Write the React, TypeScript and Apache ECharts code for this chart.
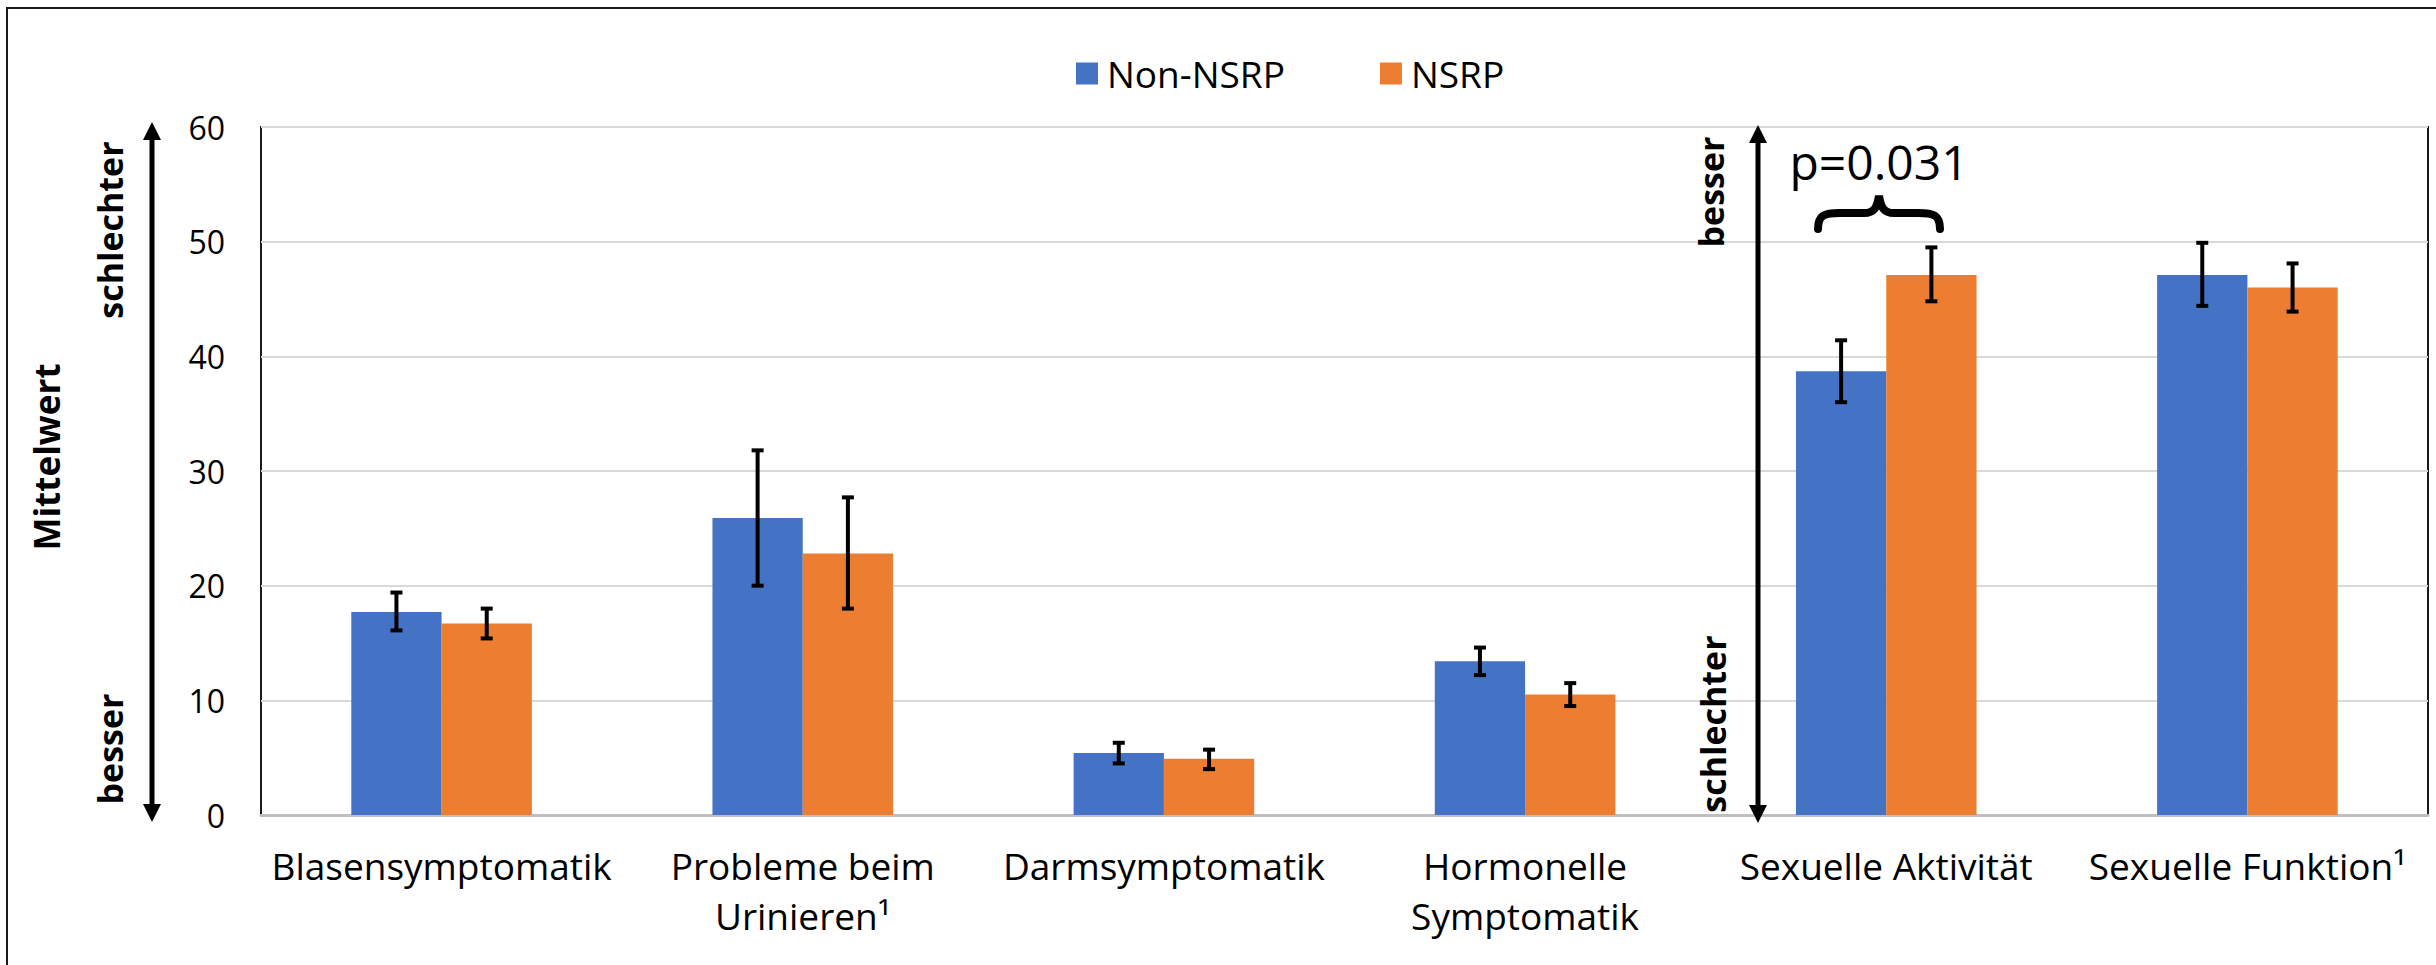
import React, { useEffect, useRef } from "react";
import * as echarts from "echarts";

const categories = [
  "Blasensymptomatik",
  "Probleme beim\nUrinieren¹",
  "Darmsymptomatik",
  "Hormonelle\nSymptomatik",
  "Sexuelle Aktivität",
  "Sexuelle Funktion¹",
];
const seriesNames = ["Non-NSRP", "NSRP"];
const nonNsrp = [17.7, 25.9, 5.4, 13.4, 38.7, 47.1];
const nsrp = [16.7, 22.8, 4.9, 10.5, 47.1, 46.0];
const nonNsrpLow = [16.1, 20.0, 4.5, 12.2, 36.0, 44.4];
const nonNsrpHigh = [19.4, 31.8, 6.3, 14.6, 41.4, 49.9];
const nsrpLow = [15.4, 18.0, 4.0, 9.5, 44.8, 43.9];
const nsrpHigh = [18.0, 27.7, 5.7, 11.5, 49.5, 48.1];
const yTicks = { min: 0, max: 60, interval: 10 };

const FONT = "'Open Sans', 'Noto Sans', sans-serif";
const BLUE = "#4472C4";
const ORANGE = "#ED7D31";

const braceD =
  "M0,33 C0,19 6,17 22,17 L46,17 C56,17 59,12 61,0 C63,12 66,17 76,17 L100,17 C116,17 122,19 122,33";
echarts.graphic.registerShape("brace", echarts.graphic.extendPath(braceD, {}));

function errorSeries(low: number[], high: number[], side: number) {
  return {
    type: "custom",
    name: "err" + side,
    z: 10,
    data: low.map((l, i) => [i, l, high[i]]),
    encode: { x: 0, y: [1, 2] },
    renderItem: (params: any, api: any) => {
      const i = api.value(0);
      const pLo = api.coord([i, api.value(1)]);
      const pHi = api.coord([i, api.value(2)]);
      const band = api.size([1, 0])[0];
      const x = pLo[0] + side * band * 0.125;
      const cap = 6;
      const style = { stroke: "#000", lineWidth: 4 };
      return {
        type: "group",
        children: [
          { type: "line", shape: { x1: x, y1: pLo[1], x2: x, y2: pHi[1] }, style },
          { type: "line", shape: { x1: x - cap, y1: pLo[1], x2: x + cap, y2: pLo[1] }, style },
          { type: "line", shape: { x1: x - cap, y1: pHi[1], x2: x + cap, y2: pHi[1] }, style },
        ],
      };
    },
  };
}

function arrow(x: number, yTop: number, yBot: number) {
  const hw = 9;
  const hh = 18;
  return [
    {
      type: "line",
      z: 100,
      shape: { x1: x, y1: yTop + hh - 2, x2: x, y2: yBot - hh + 2 },
      style: { stroke: "#000", lineWidth: 5 },
    },
    {
      type: "polygon",
      z: 100,
      shape: { points: [[x, yTop], [x - hw, yTop + hh], [x + hw, yTop + hh]] },
      style: { fill: "#000" },
    },
    {
      type: "polygon",
      z: 100,
      shape: { points: [[x, yBot], [x - hw, yBot - hh], [x + hw, yBot - hh]] },
      style: { fill: "#000" },
    },
  ];
}

function vText(text: string, x: number, y: number, size: number) {
  return {
    type: "text",
    z: 100,
    x,
    y,
    rotation: Math.PI / 2,
    style: {
      text,
      fill: "#000",
      font: `bold ${size}px ${FONT}`,
      align: "center",
      verticalAlign: "middle",
    },
  };
}

export default function App() {
  const ref = useRef<HTMLDivElement>(null);
  useEffect(() => {
    if (!ref.current) return;
    const chart = echarts.init(ref.current, null, { renderer: "svg" });
    chart.setOption({
      animation: false,
      backgroundColor: "#fff",
      textStyle: { fontFamily: FONT },
      legend: {
        data: seriesNames,
        left: 1071,
        top: 50,
        icon: "rect",
        itemWidth: 22,
        itemHeight: 22,
        itemGap: 95,
        textStyle: { fontSize: 37, color: "#000", fontFamily: FONT, padding: [0, 0, 0, 4] },
      },
      grid: {
        left: 261,
        top: 127,
        right: 8,
        bottom: 150,
        show: true,
        borderColor: "#1a1a1a",
        borderWidth: 2,
        containLabel: false,
      },
      xAxis: {
        type: "category",
        data: categories,
        axisTick: { show: false },
        axisLine: { lineStyle: { color: "#bfbfbf", width: 3 } },
        axisLabel: {
          interval: 0,
          fontSize: 37,
          lineHeight: 50,
          margin: 25,
          color: "#000",
          fontFamily: FONT,
        },
      },
      yAxis: {
        type: "value",
        min: yTicks.min,
        max: yTicks.max,
        interval: yTicks.interval,
        axisLine: { show: false },
        axisTick: { show: false },
        splitLine: { lineStyle: { color: "#d9d9d9", width: 2 } },
        axisLabel: { fontSize: 32, margin: 36, color: "#000", fontFamily: FONT },
      },
      series: [
        {
          type: "bar",
          name: seriesNames[0],
          data: nonNsrp,
          itemStyle: { color: BLUE },
          barGap: "0%",
          barCategoryGap: "50%",
        },
        {
          type: "bar",
          name: seriesNames[1],
          data: nsrp,
          itemStyle: { color: ORANGE },
          barGap: "0%",
          barCategoryGap: "50%",
        },
        errorSeries(nonNsrpLow, nonNsrpHigh, -1),
        errorSeries(nsrpLow, nsrpHigh, 1),
      ],
      graphic: [
        {
          type: "rect",
          z: 100,
          shape: { x: 7, y: 8, width: 2450, height: 980 },
          style: { fill: "none", stroke: "#1a1a1a", lineWidth: 2 },
        },
        ...arrow(152, 122, 822),
        ...arrow(1758, 125, 823),
        vText("Mittelwert", 46, 457, 35),
        vText("schlechter", 110, 230, 34),
        vText("besser", 110, 749, 34),
        vText("besser", 1711, 192, 34),
        vText("schlechter", 1713, 724, 34),
        {
          type: "text",
          z: 100,
          x: 1879,
          y: 161,
          style: {
            text: "p=0.031",
            fill: "#000",
            font: `48px ${FONT}`,
            align: "center",
            verticalAlign: "middle",
          },
        },
        {
          type: "brace",
          z: 100,
          x: 1818,
          y: 196,
          style: { fill: "none", stroke: "#000", lineWidth: 8, lineCap: "round" },
        },
      ],
    });
    return () => chart.dispose();
  }, []);
  return (
    <div
      ref={ref}
      style={{ position: "fixed", left: 0, top: 0, width: 2436, height: 965, background: "#fff" }}
    />
  );
}
